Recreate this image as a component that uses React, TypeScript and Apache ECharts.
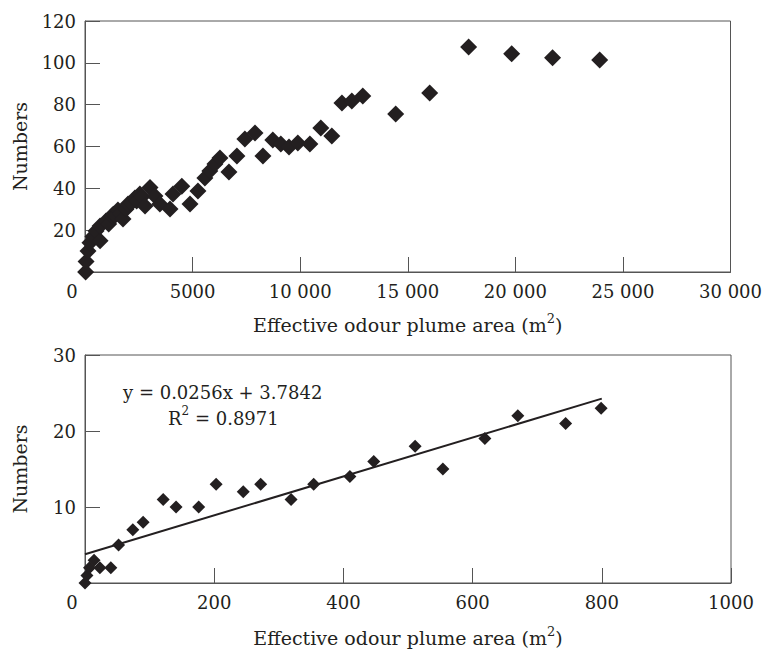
import React, { useEffect, useRef } from "react";
import * as echarts from "echarts";

// Upper panel: effective odour plume area (m²) vs numbers
const topArea = [
  30, 50, 140, 230, 370, 510, 700, 700, 975, 1100, 1250, 1316, 1400, 1530, 1650, 1765, 1900, 2000,
  2150, 2320, 2400, 2550, 2650, 2790, 3020, 3250, 3480, 3950, 4090, 4500, 4880, 5250, 5570, 5800,
  6040, 6270, 6690, 7060, 7430, 7900, 8270, 8730, 9100, 9480, 9890, 10450, 10960, 11470, 11940,
  12400, 12910, 14440, 16020, 17830, 19830, 21730, 23920,
];
const topNumbers = [
  0, 5, 10, 14, 17, 19.6, 15, 22, 24.4, 23, 26.8, 27.6, 27, 29.6, 28, 25.3, 30, 32.5,
  33, 35.4, 34, 37.3, 36, 31.6, 40.4, 36.3, 32.5, 30.1, 37.3, 41, 32.5, 38.7, 45, 48.3,
  51.6, 54.5, 47.8, 55.5, 63.6, 66.5, 55.5, 63.1, 61.2, 59.8, 61.7, 61.2, 68.8, 65, 80.8,
  81.8, 84.2, 75.5, 85.6, 107.6, 104.3, 102.4, 101.4,
];

// Lower panel: small plumes with linear fit
const lowArea = [
  0, 3, 7, 14, 23, 40, 52, 74, 90, 121, 141, 176, 203, 245, 272, 319, 354, 410, 447, 511, 554, 619,
  670, 744, 799,
];
const lowNumbers = [
  0, 1, 2, 3, 2, 2, 5, 7, 8, 11, 10, 10, 13, 12, 13, 11, 13, 14, 16, 18, 15, 19, 22, 21, 23,
];
const fitSlope = 0.0256;
const fitIntercept = 3.7842;
const fitR2 = 0.8971;
const fitRange = [0, 800];

const FONT = "DejaVu Serif";
const INK = "#231f20";
const AXIS = "#555555";

const fmtThousands = (v: number) =>
  v >= 10000 ? String(v).replace(/\B(?=(\d{3})+(?!\d))/g, " ") : String(v);

const xLabel = (fmt: (v: number) => string) => ({
  color: INK,
  fontFamily: FONT,
  fontSize: 18,
  margin: 10,
  formatter: (v: number) => (v === 0 ? "{z|0}" : fmt(v)),
  rich: {
    z: { color: INK, fontFamily: FONT, fontSize: 18, padding: [0, 26, 0, 0] },
  },
});

const yLabel = {
  color: INK,
  fontFamily: FONT,
  fontSize: 18,
  margin: 9,
  formatter: (v: number) => (v === 0 ? "" : String(v)),
};

const axisLine = { show: true, lineStyle: { color: AXIS, width: 1 } };
const axisTick = { show: true, inside: true, length: 15, lineStyle: { color: AXIS, width: 1 } };

const xName = "{a|Effective odour plume area (m}{s|2}{a|)}";
const nameStyle = {
  color: INK,
  fontFamily: FONT,
  fontSize: 19,
  rich: {
    a: { color: INK, fontFamily: FONT, fontSize: 19, lineHeight: 22, verticalAlign: "bottom" },
    s: {
      color: INK,
      fontFamily: FONT,
      fontSize: 13,
      lineHeight: 13,
      padding: [0, 0, 14, 0],
      verticalAlign: "top",
    },
  },
};

export default function App() {
  const ref = useRef<HTMLDivElement>(null);
  useEffect(() => {
    if (!ref.current) return;
    const chart = echarts.init(ref.current, undefined, { renderer: "svg" });
    const topData = topArea.map((x, i) => [x, topNumbers[i]]);
    const lowData = lowArea.map((x, i) => [x, lowNumbers[i]]);
    const fitData = fitRange.map((x) => [x, fitSlope * x + fitIntercept]);
    chart.setOption({
      animation: false,
      backgroundColor: "#ffffff",
      grid: [
        { left: 85, top: 21, width: 646, height: 251, show: true, borderColor: AXIS, borderWidth: 1, backgroundColor: "transparent" },
        { left: 85, top: 355, width: 646, height: 235, show: true, borderColor: AXIS, borderWidth: 1, backgroundColor: "transparent" },
      ],
      xAxis: [
        {
          gridIndex: 0,
          type: "value",
          min: 0,
          max: 30000,
          interval: 5000,
          axisLine,
          axisTick,
          splitLine: { show: false },
          axisLabel: xLabel(fmtThousands),
          name: xName,
          nameLocation: "middle",
          nameGap: 40,
          nameTextStyle: nameStyle,
        },
        {
          gridIndex: 1,
          type: "value",
          min: 0,
          max: 1000,
          interval: 200,
          axisLine,
          axisTick,
          splitLine: { show: false },
          axisLabel: xLabel((v) => String(v)),
          name: xName,
          nameLocation: "middle",
          nameGap: 42,
          nameTextStyle: nameStyle,
        },
      ],
      yAxis: [
        {
          gridIndex: 0,
          type: "value",
          min: 0,
          max: 120,
          interval: 20,
          axisLine,
          axisTick,
          splitLine: { show: false },
          axisLabel: yLabel,
          name: "Numbers",
          nameLocation: "middle",
          nameGap: 56,
          nameTextStyle: { color: INK, fontFamily: FONT, fontSize: 19 },
        },
        {
          gridIndex: 1,
          type: "value",
          min: 0,
          max: 30,
          interval: 10,
          axisLine,
          axisTick,
          splitLine: { show: false },
          axisLabel: yLabel,
          name: "Numbers",
          nameLocation: "middle",
          nameGap: 56,
          nameTextStyle: { color: INK, fontFamily: FONT, fontSize: 19 },
        },
      ],
      series: [
        {
          type: "scatter",
          xAxisIndex: 0,
          yAxisIndex: 0,
          data: topData,
          symbol: "diamond",
          symbolSize: 17,
          clip: false,
          itemStyle: { color: INK, opacity: 1 },
        },
        {
          type: "line",
          xAxisIndex: 1,
          yAxisIndex: 1,
          data: fitData,
          symbol: "none",
          lineStyle: { color: INK, width: 2 },
          z: 1,
        },
        {
          type: "scatter",
          xAxisIndex: 1,
          yAxisIndex: 1,
          data: lowData,
          symbol: "diamond",
          symbolSize: 13,
          clip: false,
          itemStyle: { color: INK, opacity: 1 },
          z: 3,
        },
      ],
      graphic: [
        {
          type: "text",
          left: 123,
          top: 383,
          style: {
            text: `y = ${fitSlope}x + ${fitIntercept}`,
            fill: INK,
            font: `18px "${FONT}"`,
          },
        },
        {
          type: "text",
          left: 168,
          top: 405,
          style: {
            text: `{a|R}{s|2}{a| = ${fitR2}}`,
            fill: INK,
            font: `18px "${FONT}"`,
            rich: {
              a: { fill: INK, fontFamily: FONT, fontSize: 18, lineHeight: 22, verticalAlign: "bottom" },
              s: { fill: INK, fontFamily: FONT, fontSize: 12, lineHeight: 12, padding: [0, 0, 12, 0], verticalAlign: "top" },
            },
          },
        },
      ],
    });
    return () => chart.dispose();
  }, []);
  return (
    <div
      ref={ref}
      style={{ position: "fixed", left: 0, top: 0, width: 765, height: 653, background: "#fff" }}
    />
  );
}
